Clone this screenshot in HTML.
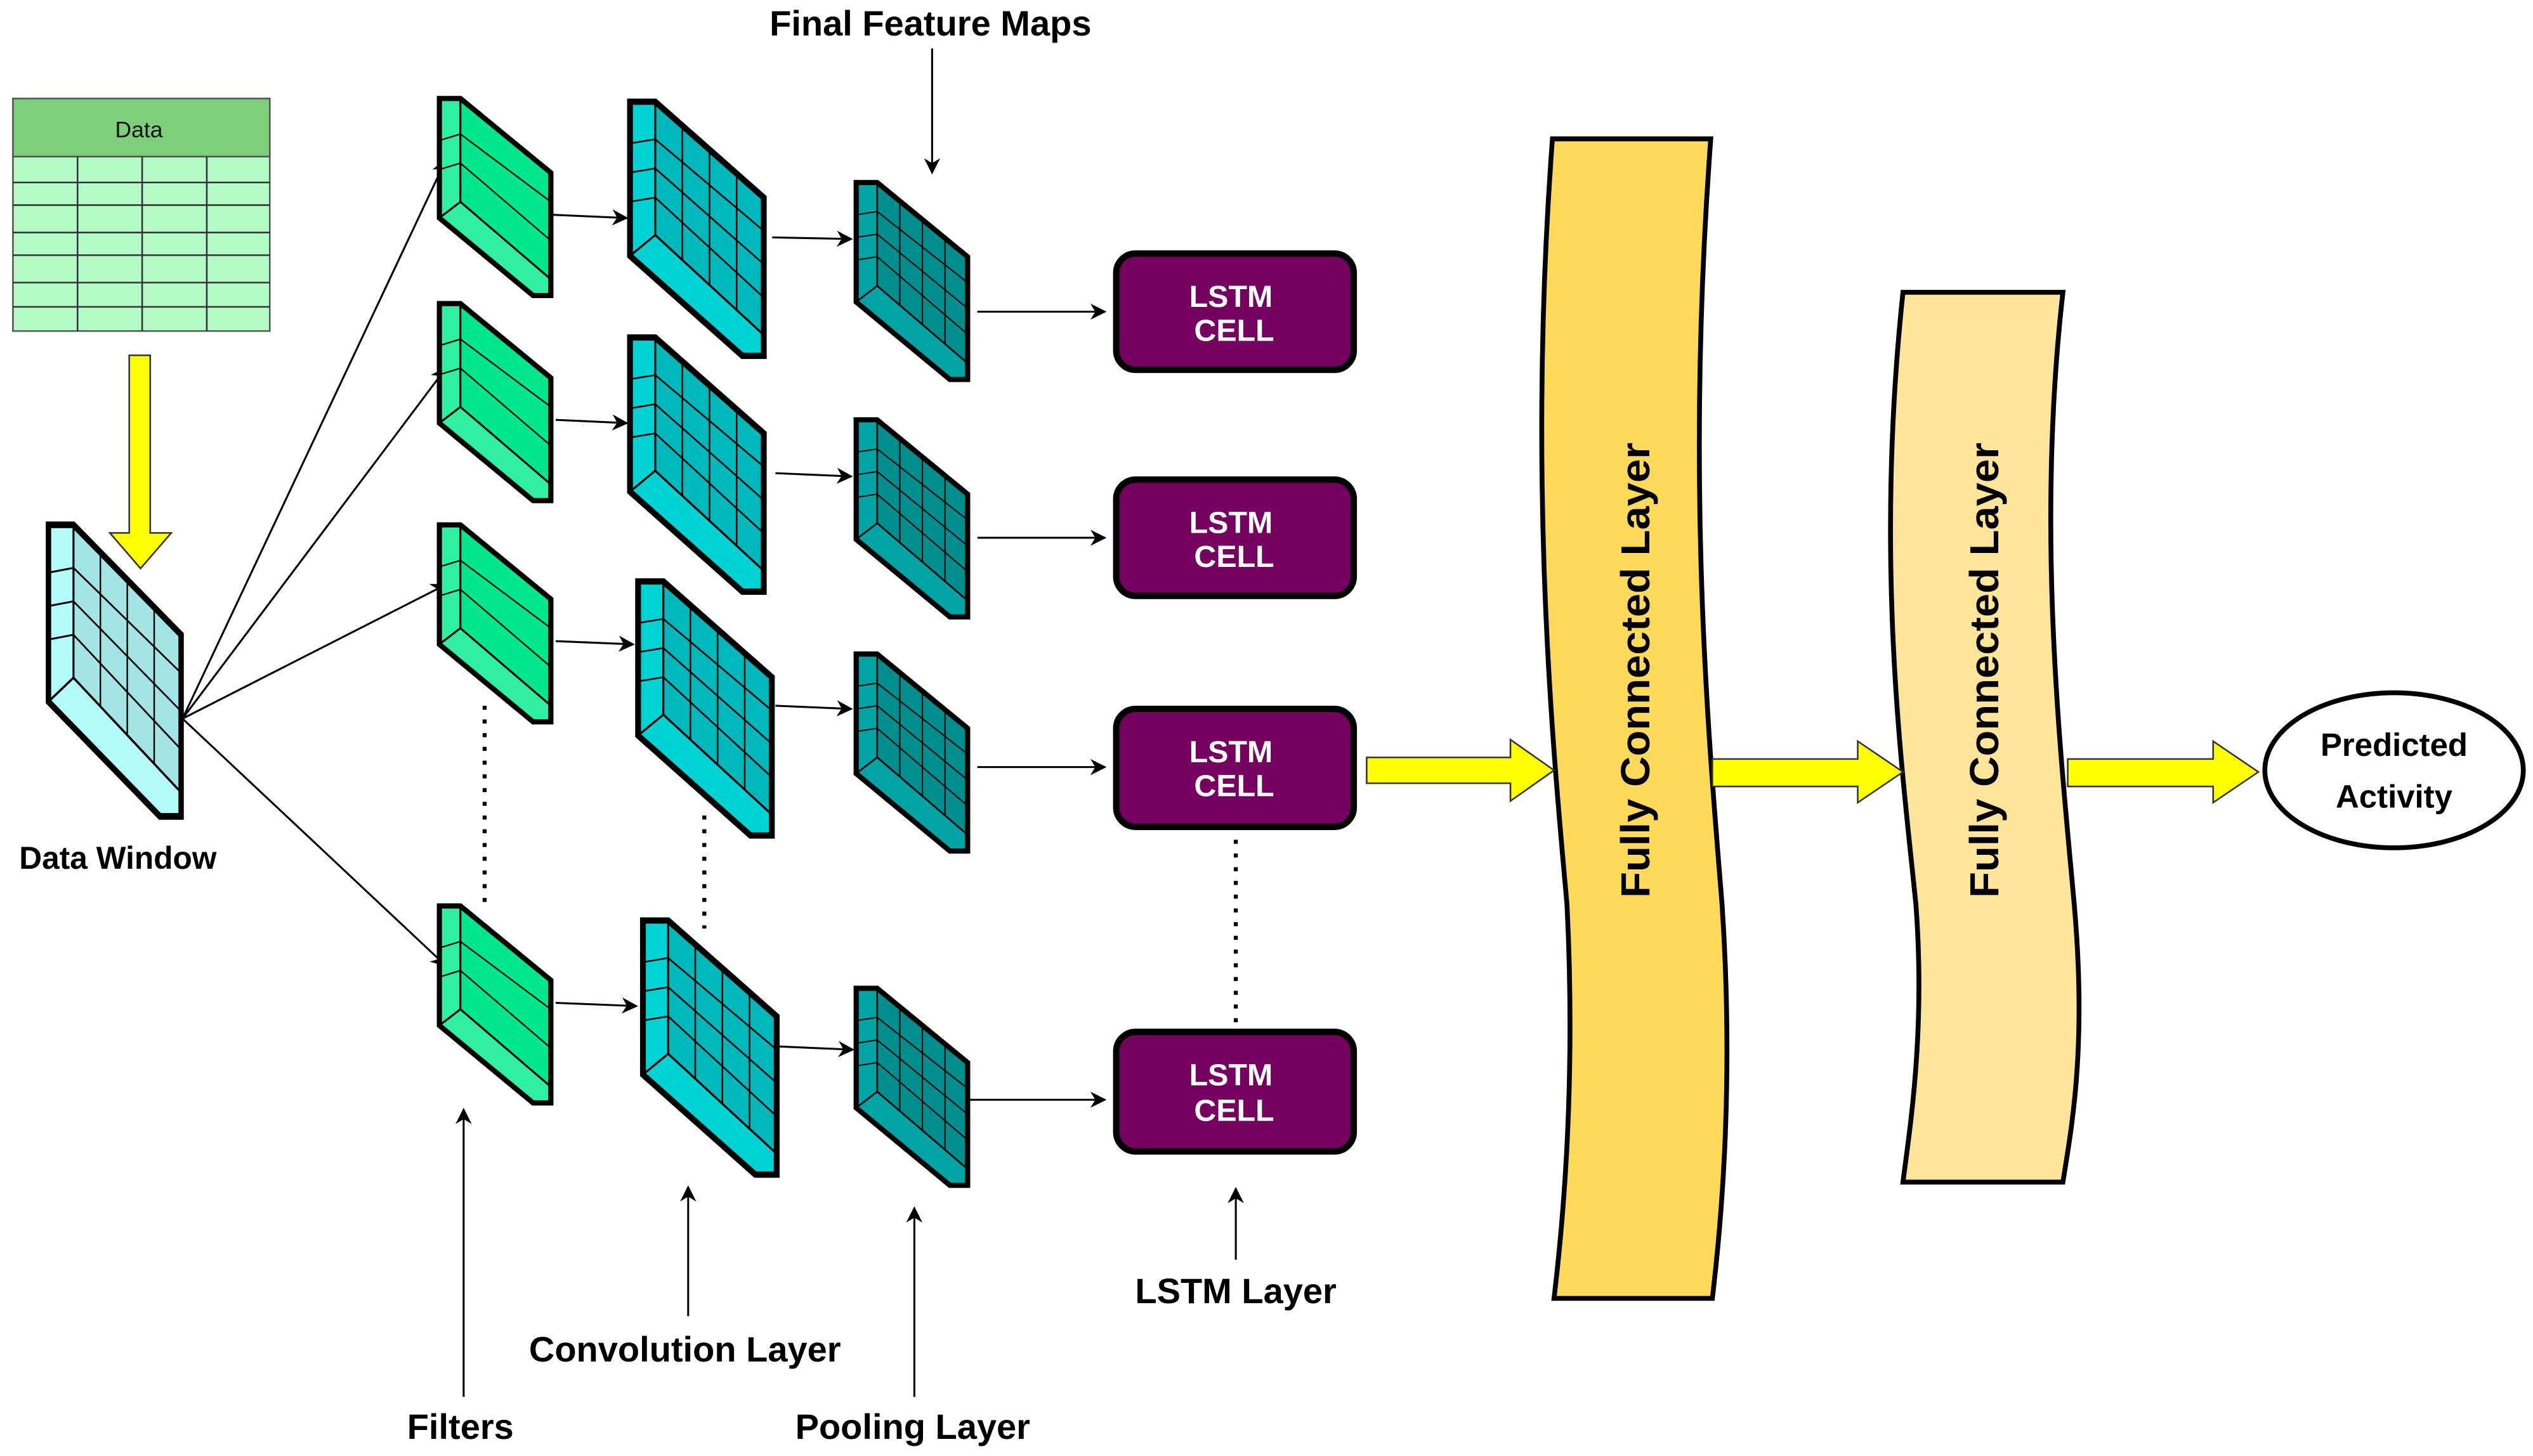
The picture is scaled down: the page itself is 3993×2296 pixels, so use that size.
<!DOCTYPE html>
<html><head><meta charset="utf-8"><style>
html,body{margin:0;padding:0;background:#fff}
svg{display:block}
text{font-family:"Liberation Sans",Arial,sans-serif}
</style></head><body>
<svg width="3993" height="2296" viewBox="0 0 1568 901.6" preserveAspectRatio="none" xmlns="http://www.w3.org/2000/svg">
<defs>
<marker id="ah" markerWidth="10" markerHeight="10" refX="9" refY="5" orient="auto" markerUnits="userSpaceOnUse"><path d="M0,0 L10,5 L0,10 L3,5 z" fill="#000"/></marker>
<g id="filt">
 <polygon points="0,0 13,0 13,64 0,74" fill="#2ff0a0" stroke="#000" stroke-width="1.2"/>
 <polygon points="13,0 69,46 69,112 13,64" fill="#00e68a" stroke="#000" stroke-width="1.2"/>
 <polygon points="0,74 13,64 69,112 69,122 58,122" fill="#2ff0a0" stroke="#000" stroke-width="1.2"/>
 <line x1="13" y1="22" x2="69" y2="64" stroke="#000" stroke-width="0.9"/>
 <line x1="13" y1="40" x2="69" y2="88" stroke="#000" stroke-width="0.9"/>
 <line x1="0" y1="26" x2="13" y2="22" stroke="#000" stroke-width="0.9"/>
 <line x1="0" y1="44" x2="13" y2="40" stroke="#000" stroke-width="0.9"/>
 <polygon points="0,0 13,0 69,46 69,122 58,122 0,74" fill="none" stroke="#000" stroke-width="3.2"/>
</g>
<g id="grid">
 <line x1="13" y1="18" x2="69" y2="62" stroke="#000" stroke-width="0.8"/>
 <line x1="13" y1="32" x2="69" y2="78" stroke="#000" stroke-width="0.8"/>
 <line x1="13" y1="46" x2="69" y2="94" stroke="#000" stroke-width="0.8"/>
 <line x1="0" y1="20" x2="13" y2="18" stroke="#000" stroke-width="0.8"/>
 <line x1="0" y1="34" x2="13" y2="32" stroke="#000" stroke-width="0.8"/>
 <line x1="0" y1="48" x2="13" y2="46" stroke="#000" stroke-width="0.8"/>
 <line x1="27" y1="11" x2="27" y2="76" stroke="#000" stroke-width="0.8"/>
 <line x1="41" y1="23" x2="41" y2="88" stroke="#000" stroke-width="0.8"/>
 <line x1="55" y1="34" x2="55" y2="100" stroke="#000" stroke-width="0.8"/>
</g>
<g id="slab">
 <polygon points="0,0 13,0 13,64 0,74" stroke="#000" stroke-width="1"/>
 <polygon points="13,0 69,46 69,112 13,64" stroke="#000" stroke-width="1"/>
 <polygon points="0,74 13,64 69,112 69,122 58,122" stroke="#000" stroke-width="1"/>
</g>
<g id="conv"><g fill="#00b8bb"><use href="#slab"/></g><polygon points="0,0 13,0 13,64 0,74" fill="#00d2d4" stroke="#000" stroke-width="1"/><polygon points="0,74 13,64 69,112 69,122 58,122" fill="#00d2d4" stroke="#000" stroke-width="1"/><use href="#grid"/><polygon points="0,0 13,0 69,46 69,122 58,122 0,74" fill="none" stroke="#000" stroke-width="3"/></g>
<g id="pool"><g fill="#008d8d"><use href="#slab"/></g><polygon points="0,0 13,0 13,64 0,74" fill="#00a3a3" stroke="#000" stroke-width="1"/><polygon points="0,74 13,64 69,112 69,122 58,122" fill="#00a3a3" stroke="#000" stroke-width="1"/><use href="#grid"/><polygon points="0,0 13,0 69,46 69,122 58,122 0,74" fill="none" stroke="#000" stroke-width="3.2"/></g>
<g id="dwin"><g fill="#a3e4e4"><use href="#slab"/></g><polygon points="0,0 13,0 13,64 0,74" fill="#b4fbfb" stroke="#000" stroke-width="1"/><polygon points="0,74 13,64 69,112 69,122 58,122" fill="#b4fbfb" stroke="#000" stroke-width="1"/><use href="#grid"/><polygon points="0,0 13,0 69,46 69,122 58,122 0,74" fill="none" stroke="#000" stroke-width="2.8"/></g>
</defs>

<!-- Data table -->
<rect x="8" y="61" width="159" height="36" fill="#7dcf7a" stroke="#555" stroke-width="1"/>
<rect x="8" y="97" width="159" height="108" fill="#b5fbc8" stroke="#555" stroke-width="1"/>
<g stroke="#333" stroke-width="1">
<line x1="48" y1="97" x2="48" y2="205"/><line x1="88" y1="97" x2="88" y2="205"/><line x1="128" y1="97" x2="128" y2="205"/>
<line x1="8" y1="113" x2="167" y2="113"/><line x1="8" y1="127" x2="167" y2="127"/><line x1="8" y1="144" x2="167" y2="144"/><line x1="8" y1="158" x2="167" y2="158"/><line x1="8" y1="175" x2="167" y2="175"/><line x1="8" y1="190" x2="167" y2="190"/>
</g>
<text x="86" y="85" font-size="14" text-anchor="middle" fill="#111">Data</text>

<!-- yellow down arrow -->
<polygon points="80,220 93,220 93,330 106,330 87,352 68,330 80,330" fill="#ffff00" stroke="#333" stroke-width="1"/>

<!-- data window -->
<use href="#dwin" transform="translate(30,325) scale(1.19,1.48)"/>
<text x="73" y="538" font-size="19.5" font-weight="bold" text-anchor="middle">Data Window</text>

<!-- fan lines -->
<g stroke="#000" stroke-width="1.2" fill="none" marker-end="url(#ah)">
<line x1="113" y1="445" x2="276" y2="99"/>
<line x1="113" y1="445" x2="276" y2="228"/>
<line x1="113" y1="445" x2="276" y2="362"/>
<line x1="113" y1="445" x2="276" y2="598"/>
</g>

<!-- filters -->
<use href="#filt" transform="translate(272,61)"/>
<use href="#filt" transform="translate(272,188)"/>
<use href="#filt" transform="translate(272,325)"/>
<use href="#filt" transform="translate(272,561)"/>

<!-- conv -->
<use href="#conv" transform="translate(390,63) scale(1.2,1.29)"/>
<use href="#conv" transform="translate(390,209) scale(1.2,1.29)"/>
<use href="#conv" transform="translate(395,360) scale(1.2,1.29)"/>
<use href="#conv" transform="translate(398,570) scale(1.2,1.29)"/>

<!-- pool -->
<use href="#pool" transform="translate(530,113)"/>
<use href="#pool" transform="translate(530,260)"/>
<use href="#pool" transform="translate(530,405)"/>
<use href="#pool" transform="translate(530,612)"/>

<!-- connectors -->
<g stroke="#000" stroke-width="1.2" fill="none" marker-end="url(#ah)">
<line x1="342" y1="133" x2="388" y2="135"/>
<line x1="344" y1="260" x2="388" y2="262"/>
<line x1="344" y1="397" x2="392" y2="399"/>
<line x1="344" y1="621" x2="394" y2="623"/>
<line x1="478" y1="147" x2="527" y2="148"/>
<line x1="480" y1="293" x2="527" y2="295"/>
<line x1="480" y1="437" x2="527" y2="439"/>
<line x1="482" y1="648" x2="528" y2="650"/>
<line x1="605" y1="193" x2="684" y2="193"/>
<line x1="605" y1="333" x2="684" y2="333"/>
<line x1="605" y1="475" x2="684" y2="475"/>
<line x1="600" y1="681" x2="684" y2="681"/>
<line x1="577" y1="30" x2="577" y2="107"/>
<line x1="287" y1="865" x2="287" y2="687"/>
<line x1="426" y1="815" x2="426" y2="735"/>
<line x1="566" y1="865" x2="566" y2="748"/>
<line x1="765" y1="780" x2="765" y2="736"/>
</g>

<!-- dotted -->
<g stroke="#000" stroke-width="2.5" stroke-dasharray="2.5,6" fill="none">
<line x1="300" y1="437" x2="300" y2="560"/>
<line x1="436" y1="505" x2="436" y2="575"/>
<line x1="765" y1="520" x2="765" y2="638"/>
</g>

<!-- LSTM -->
<g fill="#750060" stroke="#000" stroke-width="4">
<rect x="691" y="157" width="147" height="72" rx="12"/>
<rect x="691" y="297" width="147" height="72" rx="12"/>
<rect x="691" y="439" width="147" height="73" rx="12"/>
<rect x="691" y="639" width="147" height="74" rx="12"/>
</g>
<g fill="#fff" font-size="19" font-weight="bold" text-anchor="middle">
<text x="762" y="190">LSTM</text><text x="764" y="211">CELL</text>
<text x="762" y="330">LSTM</text><text x="764" y="351">CELL</text>
<text x="762" y="472">LSTM</text><text x="764" y="493">CELL</text>
<text x="762" y="672">LSTM</text><text x="764" y="694">CELL</text>
</g>

<!-- FC layers -->
<path d="M961,86 L1059,86 C1043,300 1058,460 1066,560 C1074,680 1064,770 1060,804 L962,804 C966,770 976,680 970,560 C962,470 945,300 961,86 Z" fill="#ffd95a" stroke="#000" stroke-width="3"/>
<path d="M1178,181 L1277,181 C1260,330 1276,470 1284,560 C1292,650 1282,700 1277,732 L1178,732 C1182,700 1192,640 1186,560 C1178,480 1160,350 1178,181 Z" fill="#ffe599" stroke="#000" stroke-width="3"/>
<text transform="translate(1021,415) rotate(-90)" font-size="25" font-weight="bold" text-anchor="middle" textLength="282" lengthAdjust="spacingAndGlyphs">Fully Connected Layer</text>
<text transform="translate(1237,415) rotate(-90)" font-size="25" font-weight="bold" text-anchor="middle" textLength="282" lengthAdjust="spacingAndGlyphs">Fully Connected Layer</text>

<!-- yellow arrows -->
<g fill="#ffff00" stroke="#333" stroke-width="1">
<polygon points="846,469 935,469 935,458 962,477 935,496 935,485 846,485"/>
<polygon points="1060,470 1150,470 1150,459 1178,478 1150,497 1150,487 1060,487"/>
<polygon points="1280,470 1370,470 1370,459 1398,478 1370,497 1370,487 1280,487"/>
</g>

<!-- Predicted -->
<ellipse cx="1482" cy="477" rx="80" ry="48" fill="#fff" stroke="#000" stroke-width="3"/>
<text x="1482" y="468" font-size="20" font-weight="bold" text-anchor="middle">Predicted</text>
<text x="1482" y="500" font-size="20" font-weight="bold" text-anchor="middle">Activity</text>

<!-- labels -->
<g font-size="22" font-weight="bold" text-anchor="middle">
<text x="576" y="22">Final Feature Maps</text>
<text x="285" y="891">Filters</text>
<text x="424" y="843">Convolution Layer</text>
<text x="565" y="891">Pooling Layer</text>
<text x="765" y="807">LSTM Layer</text>
</g>
</svg>
</body></html>
